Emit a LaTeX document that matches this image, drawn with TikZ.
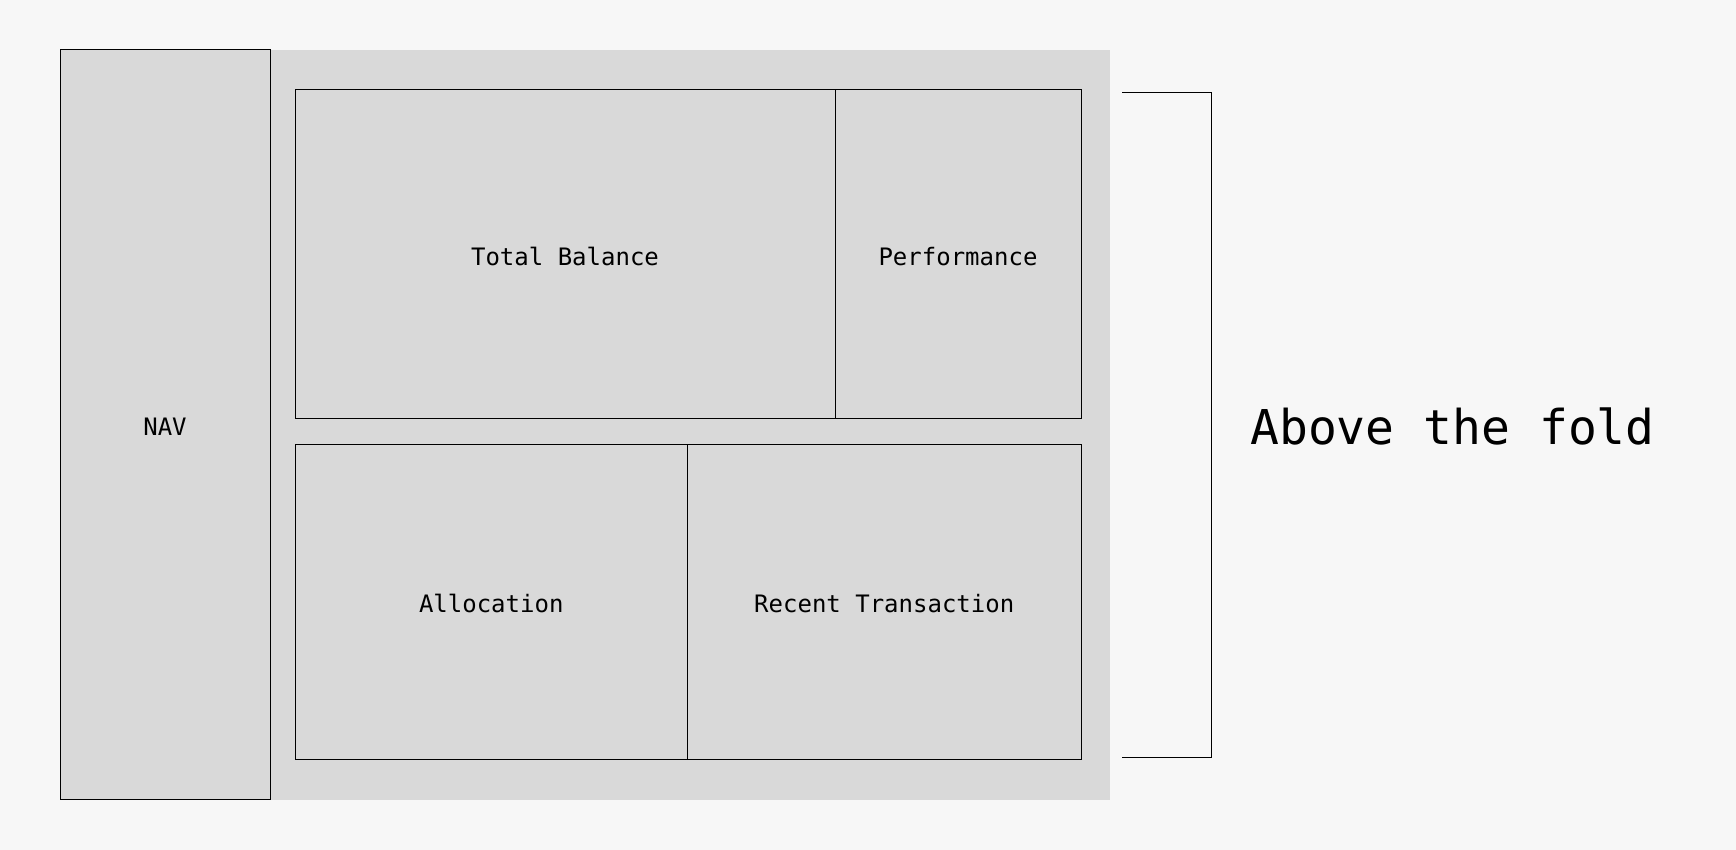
\documentclass[tikz,border=0pt]{standalone}
\usepackage{fontspec}
\setmonofont{DejaVu Sans Mono}
\definecolor{pagebg}{HTML}{F7F7F7}
\definecolor{panelgrey}{HTML}{D9D9D9}
\begin{document}
\begin{tikzpicture}[
        x=0.5pt, y=-0.5pt,
        every node/.style={font=\ttfamily\fontsize{12}{14}\selectfont},
        panel/.style={draw, line width=0.5pt, fill=panelgrey, inner sep=0pt, outer sep=0pt,
            text height=11pt, text depth=0pt},
        foldline/.style={line width=0.6pt}
    ]

    % page and content area
    \fill[pagebg] (0,0) rectangle (1736,850);
    \useasboundingbox (0,0) rectangle (1736,850);
    \fill[panelgrey] (270,50) rectangle (1110,800);

    % side navigation
    \node[panel, minimum width=105pt, minimum height=374.5pt] (nav) at (165,424.5) {NAV};

    % top row
    \node[panel, minimum width=270pt, minimum height=164.25pt] (balance) at (565,254.25) {Total Balance};
    \node[panel, minimum width=123pt, minimum height=164.25pt] (perf) at (958,254.25) {Performance};

    % bottom row
    \node[panel, minimum width=196.25pt, minimum height=157.5pt] (alloc) at (491.25,601.5) {Allocation};
    \node[panel, minimum width=196.75pt, minimum height=157.5pt] (recent) at (884.25,601.5) {Recent Transaction};

    % fold bracket
    \coordinate (foldtop) at (1122,92.3);
    \coordinate (foldbot) at (1122,757.3);
    \draw[foldline] (foldtop) -- ++(89.3,0) |- (foldbot);

    \node[font=\ttfamily\fontsize{24}{28}\selectfont] (fold) at (1452.5,426) {Above the fold};

\end{tikzpicture}
\end{document}
